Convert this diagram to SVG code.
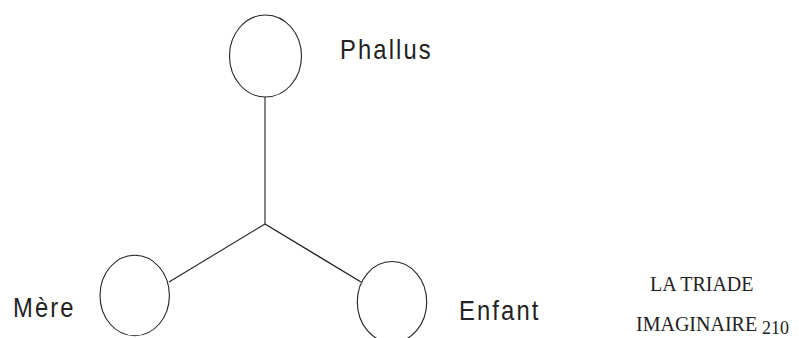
<svg xmlns="http://www.w3.org/2000/svg" width="799" height="338" viewBox="0 0 799 338">
<style>
.node{fill:#fff;stroke:#222;stroke-width:1.1}
.edge{stroke:#222;stroke-width:1.1;fill:none}
.lbl{font-family:"Liberation Sans",Arial,sans-serif;font-size:28px;letter-spacing:2.5px;fill:#222}
.cap{font-family:"Liberation Serif","Times New Roman",serif;font-size:20px;fill:#222}
</style>
<rect width="799" height="338" fill="#fff"/>
<g id="connectors">
<line class="edge" x1="265" y1="97" x2="265" y2="224"/>
<line class="edge" x1="265" y1="224" x2="169" y2="282"/>
<line class="edge" x1="265" y1="224" x2="361" y2="282" style="stroke-width:1.4"/>
</g>
<g id="phallus">
<ellipse class="node" cx="265.5" cy="56" rx="36" ry="41"/>
<text class="lbl" transform="translate(340,59) scale(0.85,1)">Phallus</text>
</g>
<g id="mere">
<ellipse class="node" cx="134.7" cy="295.5" rx="34.7" ry="40.3"/>
<text class="lbl" transform="translate(13,317) scale(0.85,1)">Mère</text>
</g>
<g id="enfant">
<ellipse class="node" cx="392" cy="302" rx="34.7" ry="40.5"/>
<text class="lbl" transform="translate(459,320) scale(0.85,1)">Enfant</text>
</g>
<g id="caption">
<text class="cap" x="650" y="291">LA TRIADE</text>
<text class="cap" x="636" y="331">IMAGINAIRE</text>
<text class="cap" x="762" y="334" style="font-size:18px">210</text>
</g>
</svg>
